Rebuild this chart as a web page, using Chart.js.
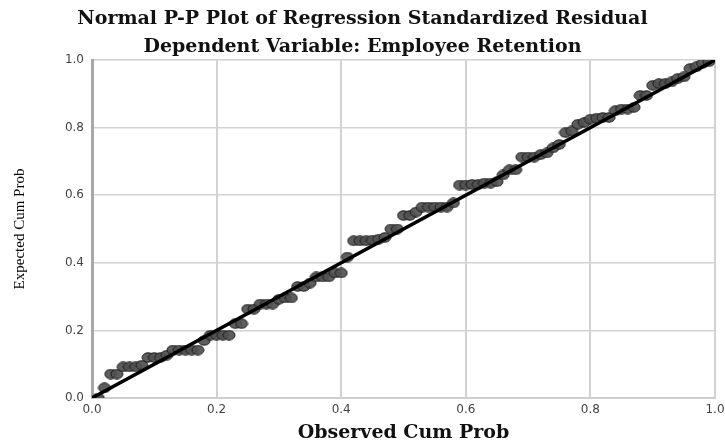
<!DOCTYPE html>
<html>
<head>
<meta charset="utf-8">
<script src="https://cdn.jsdelivr.net/npm/chart.js@4/dist/chart.umd.min.js"></script>
<style>
  html, body { margin: 0; padding: 0; background: #fff; }
</style>
</head>
<body>
<canvas id="ppChart" width="725" height="443"></canvas>
<script>
// observed cumulative probability (x) and expected cumulative probability (y)
var observedCum = [0.01, 0.02, 0.03, 0.04, 0.05, 0.06, 0.07, 0.08, 0.09, 0.10,
  0.11, 0.12, 0.13, 0.14, 0.15, 0.16, 0.17, 0.18, 0.19, 0.20,
  0.21, 0.22, 0.23, 0.24, 0.25, 0.26, 0.27, 0.28, 0.29, 0.30,
  0.31, 0.32, 0.33, 0.34, 0.35, 0.36, 0.37, 0.38, 0.39, 0.40,
  0.41, 0.42, 0.43, 0.44, 0.45, 0.46, 0.47, 0.48, 0.49, 0.50,
  0.51, 0.52, 0.53, 0.54, 0.55, 0.56, 0.57, 0.58, 0.59, 0.60,
  0.61, 0.62, 0.63, 0.64, 0.65, 0.66, 0.67, 0.68, 0.69, 0.70,
  0.71, 0.72, 0.73, 0.74, 0.75, 0.76, 0.77, 0.78, 0.79, 0.80,
  0.81, 0.82, 0.83, 0.84, 0.85, 0.86, 0.87, 0.88, 0.89, 0.90,
  0.91, 0.92, 0.93, 0.94, 0.95, 0.96, 0.97, 0.98, 0.99];
var expectedCum = [0.000, 0.030, 0.071, 0.071, 0.092, 0.092, 0.092, 0.097, 0.120, 0.120,
  0.120, 0.127, 0.142, 0.142, 0.142, 0.142, 0.142, 0.170, 0.186, 0.186,
  0.186, 0.186, 0.220, 0.220, 0.263, 0.263, 0.278, 0.278, 0.278, 0.292,
  0.296, 0.296, 0.330, 0.330, 0.340, 0.358, 0.358, 0.358, 0.370, 0.370,
  0.417, 0.465, 0.465, 0.465, 0.467, 0.470, 0.475, 0.500, 0.500, 0.540,
  0.540, 0.550, 0.565, 0.565, 0.565, 0.565, 0.565, 0.577, 0.630, 0.630,
  0.632, 0.632, 0.636, 0.636, 0.640, 0.660, 0.675, 0.675, 0.713, 0.713,
  0.713, 0.720, 0.725, 0.740, 0.750, 0.785, 0.790, 0.810, 0.815, 0.825,
  0.828, 0.830, 0.830, 0.850, 0.855, 0.855, 0.860, 0.895, 0.895, 0.925,
  0.930, 0.930, 0.935, 0.945, 0.950, 0.975, 0.980, 0.990, 0.995];
var refLine = [0, 1];
var axisTicks = [0.0, 0.2, 0.4, 0.6, 0.8, 1.0];

var points = observedCum.map(function (x, i) { return { x: x, y: expectedCum[i] }; });

// slightly flattened marker like the spss export
var dot = document.createElement('canvas');
dot.width = 14; dot.height = 11;
var dctx = dot.getContext('2d');
dctx.beginPath();
dctx.ellipse(7, 5.5, 6, 4.7, 0, 0, Math.PI * 2);
dctx.fillStyle = 'rgba(80,80,80,0.92)';
dctx.fill();
dctx.lineWidth = 1;
dctx.strokeStyle = '#1a1a1a';
dctx.stroke();

var tickFont = { family: 'DejaVu Sans', size: 12 };
var serifBold = { family: 'DejaVu Serif', weight: 'bold', size: 19 };

var ctx = document.getElementById('ppChart').getContext('2d');
new Chart(ctx, {
  type: 'scatter',
  data: {
    datasets: [
      {
        type: 'line',
        data: [{ x: refLine[0], y: refLine[0] }, { x: refLine[1], y: refLine[1] }],
        borderColor: '#000',
        borderWidth: 3.5,
        pointRadius: 0,
        order: 0
      },
      {
        data: points,
        pointStyle: dot,
        pointRadius: 5,
        order: 1
      }
    ]
  },
  options: {
    responsive: false,
    animation: false,
    devicePixelRatio: 1,
    layout: { padding: 0 },
    plugins: {
      legend: { display: false },
      tooltip: { enabled: false },
      title: {
        display: true,
        text: 'Normal P-P Plot of Regression Standardized Residual',
        font: serifBold,
        color: '#111',
        padding: { top: 8, bottom: 5.2 }
      },
      subtitle: {
        display: true,
        text: 'Dependent Variable: Employee Retention',
        font: serifBold,
        color: '#111',
        padding: { top: 0, bottom: 1.2 }
      }
    },
    scales: {
      x: {
        type: 'linear',
        min: 0,
        max: 1,
        afterBuildTicks: function (s) { s.ticks = axisTicks.map(function (v) { return { value: v }; }); },
        afterFit: function (s) { s.height = 45; s.paddingRight = 10; s.paddingLeft = 0; },
        ticks: {
          font: tickFont,
          color: '#444',
          padding: 5,
          callback: function (v) { return v.toFixed(1); }
        },
        grid: { color: '#d2d2d2', lineWidth: 2, drawTicks: false },
        border: { color: '#cfcfcf', width: 2 },
        title: {
          display: true,
          text: 'Observed Cum Prob',
          font: { family: 'DejaVu Serif', weight: 'bold', size: 19, lineHeight: 1.0 },
          color: '#111',
          padding: { top: 0, bottom: 0 }
        }
      },
      y: {
        type: 'linear',
        min: 0,
        max: 1,
        afterBuildTicks: function (s) { s.ticks = axisTicks.map(function (v) { return { value: v }; }); },
        afterFit: function (s) { s.width = 92; },
        ticks: {
          font: tickFont,
          color: '#444',
          padding: 8,
          callback: function (v) { return v.toFixed(1); }
        },
        grid: { color: '#d2d2d2', lineWidth: 1.5, drawTicks: false },
        border: { color: '#a8a8a8', width: 3 },
        title: {
          display: true,
          text: 'Expected Cum Prob',
          font: { family: 'Liberation Serif', size: 15 },
          color: '#000',
          padding: { top: 11, bottom: 0 }
        }
      }
    }
  }
});
</script>
</body>
</html>
